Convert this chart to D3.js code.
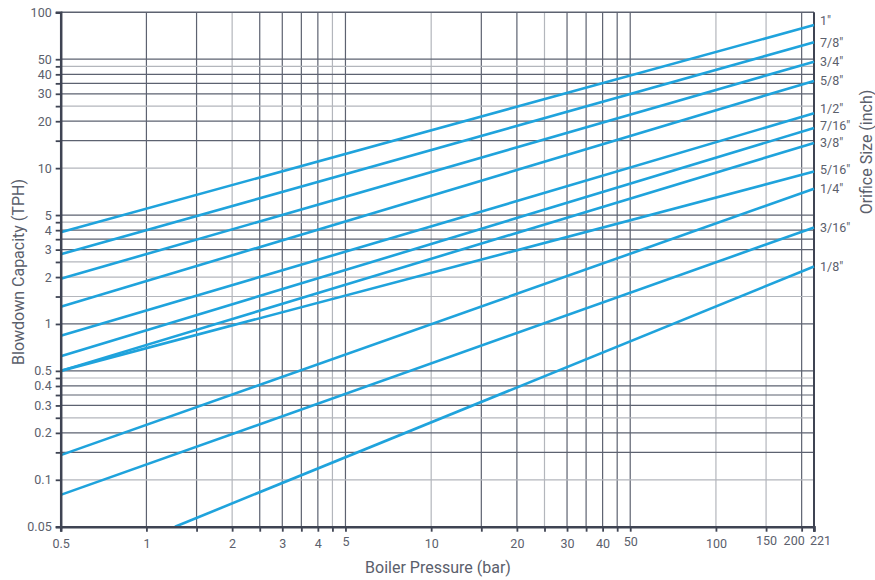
<!DOCTYPE html>
<html><head><meta charset="utf-8">
<script src="https://cdn.jsdelivr.net/npm/d3@7"></script>
<style>
body{margin:0;background:#fff;}
text{font-family:Roboto,"Noto Sans",sans-serif;fill:#5b606c;}
</style></head>
<body><svg id="c" width="875" height="580"></svg>
<script>
// ---- data ----
const orificeSizes = ['1"', '7/8"', '3/4"', '5/8"', '1/2"', '7/16"', '3/8"', '5/16"', '1/4"', '3/16"', '1/8"'];
const startPressure = [0.5, 0.5, 0.5, 0.5, 0.5, 0.5, 0.5, 0.5, 0.5, 0.5, 1.26];
const startCapacity = [3.88, 2.8, 1.95, 1.29, 0.84, 0.62, 0.5, 0.5, 0.144, 0.080, 0.05];
const endPressure = [221, 221, 221, 221, 221, 221, 221, 221, 221, 221, 221];
const endCapacity = [82.9, 64.2, 48.2, 36.3, 22.5, 18.1, 14.5, 9.5, 7.37, 4.16, 2.34];
const xGridValues = [1, 1.5, 2, 2.5, 3, 3.5, 4, 4.5, 5, 10, 15, 20, 25, 30, 35, 40, 45, 50, 100, 150, 200];
const xTickLabels = [0.5, 1, 2, 3, 4, 5, 10, 20, 30, 40, 50, 100, 150, 200, 221];
const yGridValues = [0.1, 0.15, 0.2, 0.25, 0.3, 0.35, 0.4, 0.45, 0.5, 1, 1.5, 2, 2.5, 3, 3.5, 4, 4.5, 5, 10, 15, 20, 25, 30, 35, 40, 45, 50];
const yTickLabels = [0.05, 0.1, 0.2, 0.3, 0.4, 0.5, 1, 2, 3, 4, 5, 10, 20, 30, 40, 50, 100];
const xLightGrid = [2, 4.5, 10, 25, 100, 150];
const yLightGrid = [0.1, 0.25, 0.45, 1.5, 2, 2.5, 4.5, 10, 25, 45];

// ---- layout ----
const L = 60.7, R = 814, T = 12.3, B = 526.7;
const svg = d3.select('#c');
const x = d3.scaleLog().domain([0.5, 221]).range([L, R]);
const y = d3.scaleLog().domain([0.05, 100]).range([B, T]);
const dark = '#5d6270', light = '#b3b6bc', axisCol = '#3f4453';
const fmt = d => String(d);

// grid
svg.append('g').selectAll('line').data(xGridValues).join('line')
  .attr('x1', d => x(d)).attr('x2', d => x(d)).attr('y1', T).attr('y2', B)
  .attr('stroke', d => xLightGrid.includes(d) ? light : dark).attr('stroke-width', 1.2);
svg.append('g').selectAll('line').data(yGridValues).join('line')
  .attr('y1', d => y(d)).attr('y2', d => y(d)).attr('x1', L).attr('x2', R)
  .attr('stroke', d => yLightGrid.includes(d) ? light : dark).attr('stroke-width', 1.2);

// top and right border
svg.append('line').attr('x1', L).attr('x2', R).attr('y1', T).attr('y2', T).attr('stroke', dark).attr('stroke-width', 1.5);
svg.append('line').attr('x1', R).attr('x2', R).attr('y1', T).attr('y2', B + 5).attr('stroke', axisCol).attr('stroke-width', 2);

// series lines
const series = orificeSizes.map((name, i) => ({
  name,
  pts: [[startPressure[i], startCapacity[i]], [endPressure[i], endCapacity[i]]]
}));
const line = d3.line().x(d => x(d[0])).y(d => y(d[1]));
svg.append('g').selectAll('path').data(series).join('path')
  .attr('d', d => line(d.pts)).attr('fill', 'none')
  .attr('stroke', '#1fa3dc').attr('stroke-width', 2.6);

// axes
const xAxis = d3.axisBottom(x).tickValues(xGridValues.concat([0.5, 221])).tickSize(5)
  .tickFormat(d => xTickLabels.includes(d) ? fmt(d) : '');
const gx = svg.append('g').attr('transform', `translate(0,${B})`).call(xAxis);
gx.select('.domain').attr('stroke', axisCol).attr('stroke-width', 2.5);
gx.selectAll('.tick line').attr('stroke', axisCol).attr('stroke-width', 1.8);
const xShift = {200: -8, 221: 6, 150: 0};
const xLift = {150: -3, 200: -3, 221: -3, 50: -2, 5: -2};
gx.selectAll('.tick text').attr('font-size', 12.5).attr('dy', '1.05em')
  .attr('dx', d => xShift[d] || 0).attr('y', d => 8 + (xLift[d] || 0))
  .style('fill', '#5b606c');

const yAxis = d3.axisLeft(y).tickValues(yGridValues.concat([0.05, 100])).tickSize(5)
  .tickFormat(d => yTickLabels.includes(d) ? fmt(d) : '');
const gy = svg.append('g').attr('transform', `translate(${L},0)`).call(yAxis);
gy.select('.domain').attr('stroke', axisCol).attr('stroke-width', 2.5);
gy.selectAll('.tick line').attr('stroke', axisCol).attr('stroke-width', 1.8);
gy.selectAll('.tick text').attr('font-size', 12.5).attr('x', -9).style('fill', '#5b606c');
gx.attr('font-family', null); gy.attr('font-family', null);

// series labels
const nudge = {'1"': -4, '1/2"': -5, '7/16"': -2, '5/16"': -2};
svg.append('g').selectAll('text').data(series).join('text')
  .attr('x', R + 6).attr('y', d => y(d.pts[1][1]) + (nudge[d.name] || 0))
  .attr('dy', '0.35em').attr('font-size', 12.5).text(d => d.name);

// axis titles
svg.append('text').attr('x', 438).attr('y', 573).attr('text-anchor', 'middle')
  .attr('font-size', 16).text('Boiler Pressure (bar)');
svg.append('text').attr('transform', 'translate(24,272) rotate(-90)').attr('text-anchor', 'middle')
  .attr('font-size', 16).text('Blowdown Capacity (TPH)');
svg.append('text').attr('transform', 'translate(872,152) rotate(-90)').attr('text-anchor', 'middle')
  .attr('font-size', 16).text('Orifice Size (inch)');
</script></body></html>
